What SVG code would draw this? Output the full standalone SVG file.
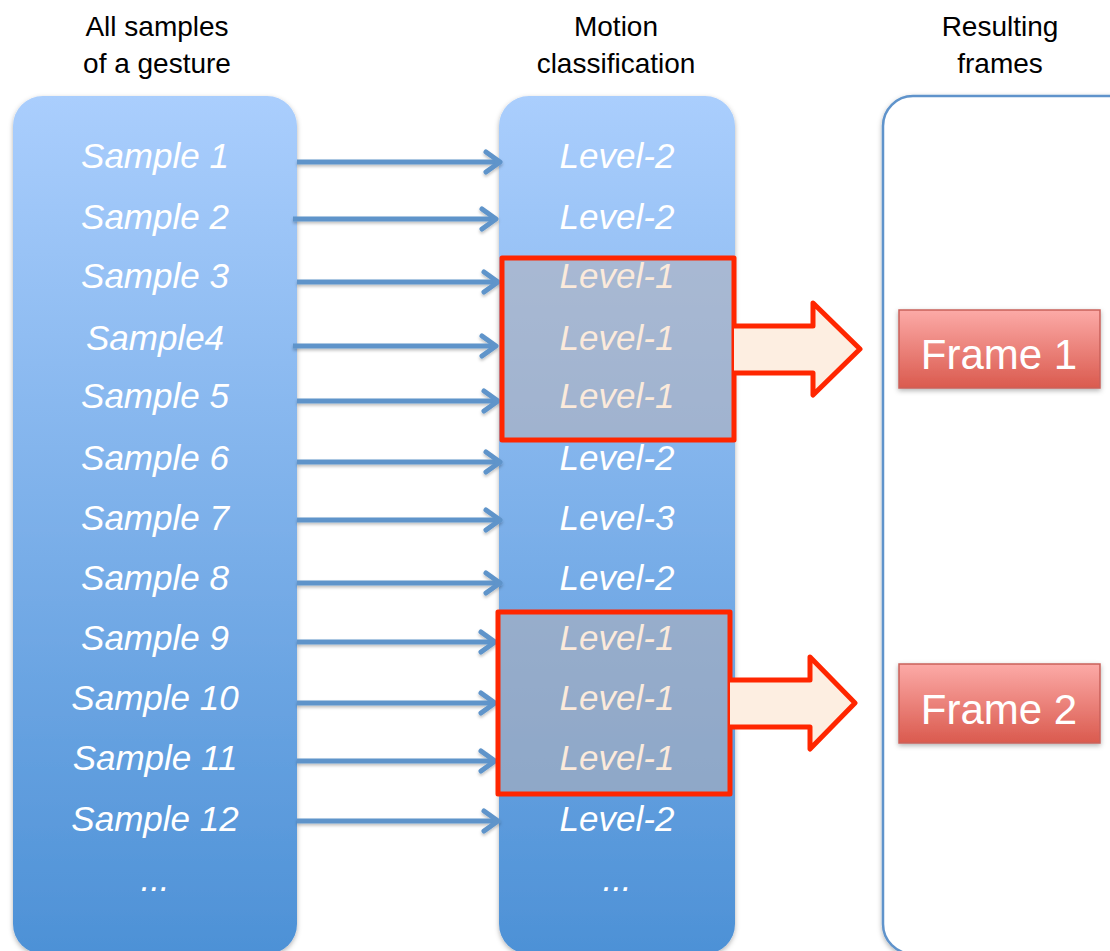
<svg xmlns="http://www.w3.org/2000/svg" width="1110" height="951" viewBox="0 0 1110 951">
  <defs>
    <linearGradient id="colGrad" x1="0" y1="0" x2="0" y2="1">
      <stop offset="0" stop-color="#aacefd"/>
      <stop offset="1" stop-color="#4d91d6"/>
    </linearGradient>
    <linearGradient id="frameGrad" x1="0" y1="0" x2="0" y2="1">
      <stop offset="0" stop-color="#fcaaa7"/>
      <stop offset="1" stop-color="#da5a4e"/>
    </linearGradient>
    <filter id="shadow" x="-10%" y="-10%" width="120%" height="120%">
      <feDropShadow dx="0" dy="2" stdDeviation="2.5" flood-color="#000" flood-opacity="0.3"/>
    </filter>
    <filter id="lineShadow" x="-5%" y="-50%" width="110%" height="200%">
      <feDropShadow dx="0" dy="2" stdDeviation="1.5" flood-color="#000" flood-opacity="0.25"/>
    </filter>
    <marker id="chevron" markerUnits="userSpaceOnUse" markerWidth="30" markerHeight="30" viewBox="-20 -15 30 30" refX="0" refY="0" orient="auto">
      <path d="M-14,-10 L0,0 L-14,10" fill="none" stroke="#5e94ca" stroke-width="5" stroke-linecap="round" stroke-linejoin="round"/>
    </marker>
  </defs>
  <style>
    .hdr { font-family: "Liberation Sans", Arial, sans-serif; font-size: 28px; fill: #000; text-anchor: middle; }
    .item { font-family: "Liberation Sans", Arial, sans-serif; font-size: 35px; font-style: italic; fill: #ffffff; text-anchor: middle; }
    .sel { fill: #fbeadb; }
    .conn { stroke: #5e94ca; stroke-width: 5; fill: none; marker-end: url(#chevron); }
    .group { fill: #b7b1b7; fill-opacity: 0.55; stroke: #ff2600; stroke-width: 5; stroke-linejoin: round; }
    .bigArrow { fill: #fdeee1; stroke: none; }
    .bigArrowEdge { fill: none; stroke: #ff2600; stroke-width: 5; stroke-linejoin: round; }
    .frame { fill: url(#frameGrad); stroke: #c9615b; stroke-width: 1.5; }
    .frameText { font-family: "Liberation Sans", Arial, sans-serif; font-size: 42px; fill: #ffffff; text-anchor: middle; }
  </style>

  <rect width="1110" height="951" fill="#ffffff"/>

  <!-- column headings -->
  <g id="headings">
    <text class="hdr" x="157" y="36">All samples</text>
    <text class="hdr" x="157" y="73">of a gesture</text>
    <text class="hdr" x="616" y="36">Motion</text>
    <text class="hdr" x="616" y="73">classification</text>
    <text class="hdr" x="1000" y="36">Resulting</text>
    <text class="hdr" x="1000" y="73">frames</text>
  </g>

  <!-- samples column -->
  <g id="samples">
    <rect x="13" y="96" width="284" height="858" rx="30" ry="30" fill="url(#colGrad)" filter="url(#shadow)"/>
    <text class="item" x="155" y="168">Sample 1</text>
    <text class="item" x="155" y="229">Sample 2</text>
    <text class="item" x="155" y="288">Sample 3</text>
    <text class="item" x="155" y="350">Sample4</text>
    <text class="item" x="155" y="408">Sample 5</text>
    <text class="item" x="155" y="470">Sample 6</text>
    <text class="item" x="155" y="530">Sample 7</text>
    <text class="item" x="155" y="590">Sample 8</text>
    <text class="item" x="155" y="650">Sample 9</text>
    <text class="item" x="155" y="710">Sample 10</text>
    <text class="item" x="155" y="770">Sample 11</text>
    <text class="item" x="155" y="831">Sample 12</text>
    <text class="item" x="155" y="891">...</text>
  </g>

  <!-- classification column -->
  <g id="classification">
    <rect x="499" y="96" width="236" height="858" rx="30" ry="30" fill="url(#colGrad)" filter="url(#shadow)"/>
  </g>

  <!-- results column -->
  <g id="results">
    <rect x="883" y="96" width="260" height="858" rx="30" ry="30" fill="#ffffff" stroke="#5f93cb" stroke-width="2.5" filter="url(#shadow)"/>
  </g>

  <!-- sample-to-level connectors -->
  <g id="connectors" filter="url(#lineShadow)">
    <line class="conn" x1="297" y1="162" x2="500" y2="162"/>
    <line class="conn" x1="293" y1="219" x2="496" y2="219"/>
    <line class="conn" x1="297" y1="282" x2="498" y2="282"/>
    <line class="conn" x1="293" y1="346" x2="496" y2="346"/>
    <line class="conn" x1="297" y1="401" x2="498" y2="401"/>
    <line class="conn" x1="297" y1="462" x2="500" y2="462"/>
    <line class="conn" x1="297" y1="520" x2="500" y2="520"/>
    <line class="conn" x1="297" y1="583" x2="500" y2="583"/>
    <line class="conn" x1="297" y1="642" x2="495" y2="642"/>
    <line class="conn" x1="297" y1="703" x2="495" y2="703"/>
    <line class="conn" x1="297" y1="761" x2="495" y2="761"/>
    <line class="conn" x1="297" y1="821" x2="498" y2="821"/>
  </g>

  <!-- first selected run of Level-1 samples -->
  <g id="group1">
    <rect class="group" x="502" y="258" width="232" height="182"/>
    <path class="bigArrow" d="M734,326 L813,326 L813,303 L860,349 L813,395 L813,373 L734,373 Z"/>
    <path class="bigArrowEdge" d="M734,326 L813,326 L813,303 L860,349 L813,395 L813,373 L734,373"/>
  </g>

  <!-- second selected run of Level-1 samples -->
  <g id="group2">
    <rect class="group" x="498" y="612" width="232" height="182"/>
    <path class="bigArrow" d="M730,680 L810,680 L810,657 L855,703 L810,749 L810,727 L730,727 Z"/>
    <path class="bigArrowEdge" d="M730,680 L810,680 L810,657 L855,703 L810,749 L810,727 L730,727"/>
  </g>

  <!-- level labels -->
  <g id="levels">
    <text class="item" x="617" y="168">Level-2</text>
    <text class="item" x="617" y="229">Level-2</text>
    <text class="item sel" x="617" y="288">Level-1</text>
    <text class="item sel" x="617" y="350">Level-1</text>
    <text class="item sel" x="617" y="408">Level-1</text>
    <text class="item" x="617" y="470">Level-2</text>
    <text class="item" x="617" y="530">Level-3</text>
    <text class="item" x="617" y="590">Level-2</text>
    <text class="item sel" x="617" y="650">Level-1</text>
    <text class="item sel" x="617" y="710">Level-1</text>
    <text class="item sel" x="617" y="770">Level-1</text>
    <text class="item" x="617" y="831">Level-2</text>
    <text class="item" x="617" y="891">...</text>
  </g>

  <!-- resulting frames -->
  <g id="frame1">
    <rect class="frame" x="899" y="310" width="201" height="78" filter="url(#shadow)"/>
    <text class="frameText" x="999" y="369">Frame 1</text>
  </g>
  <g id="frame2">
    <rect class="frame" x="899" y="664" width="201" height="79" filter="url(#shadow)"/>
    <text class="frameText" x="999" y="724">Frame 2</text>
  </g>
</svg>
